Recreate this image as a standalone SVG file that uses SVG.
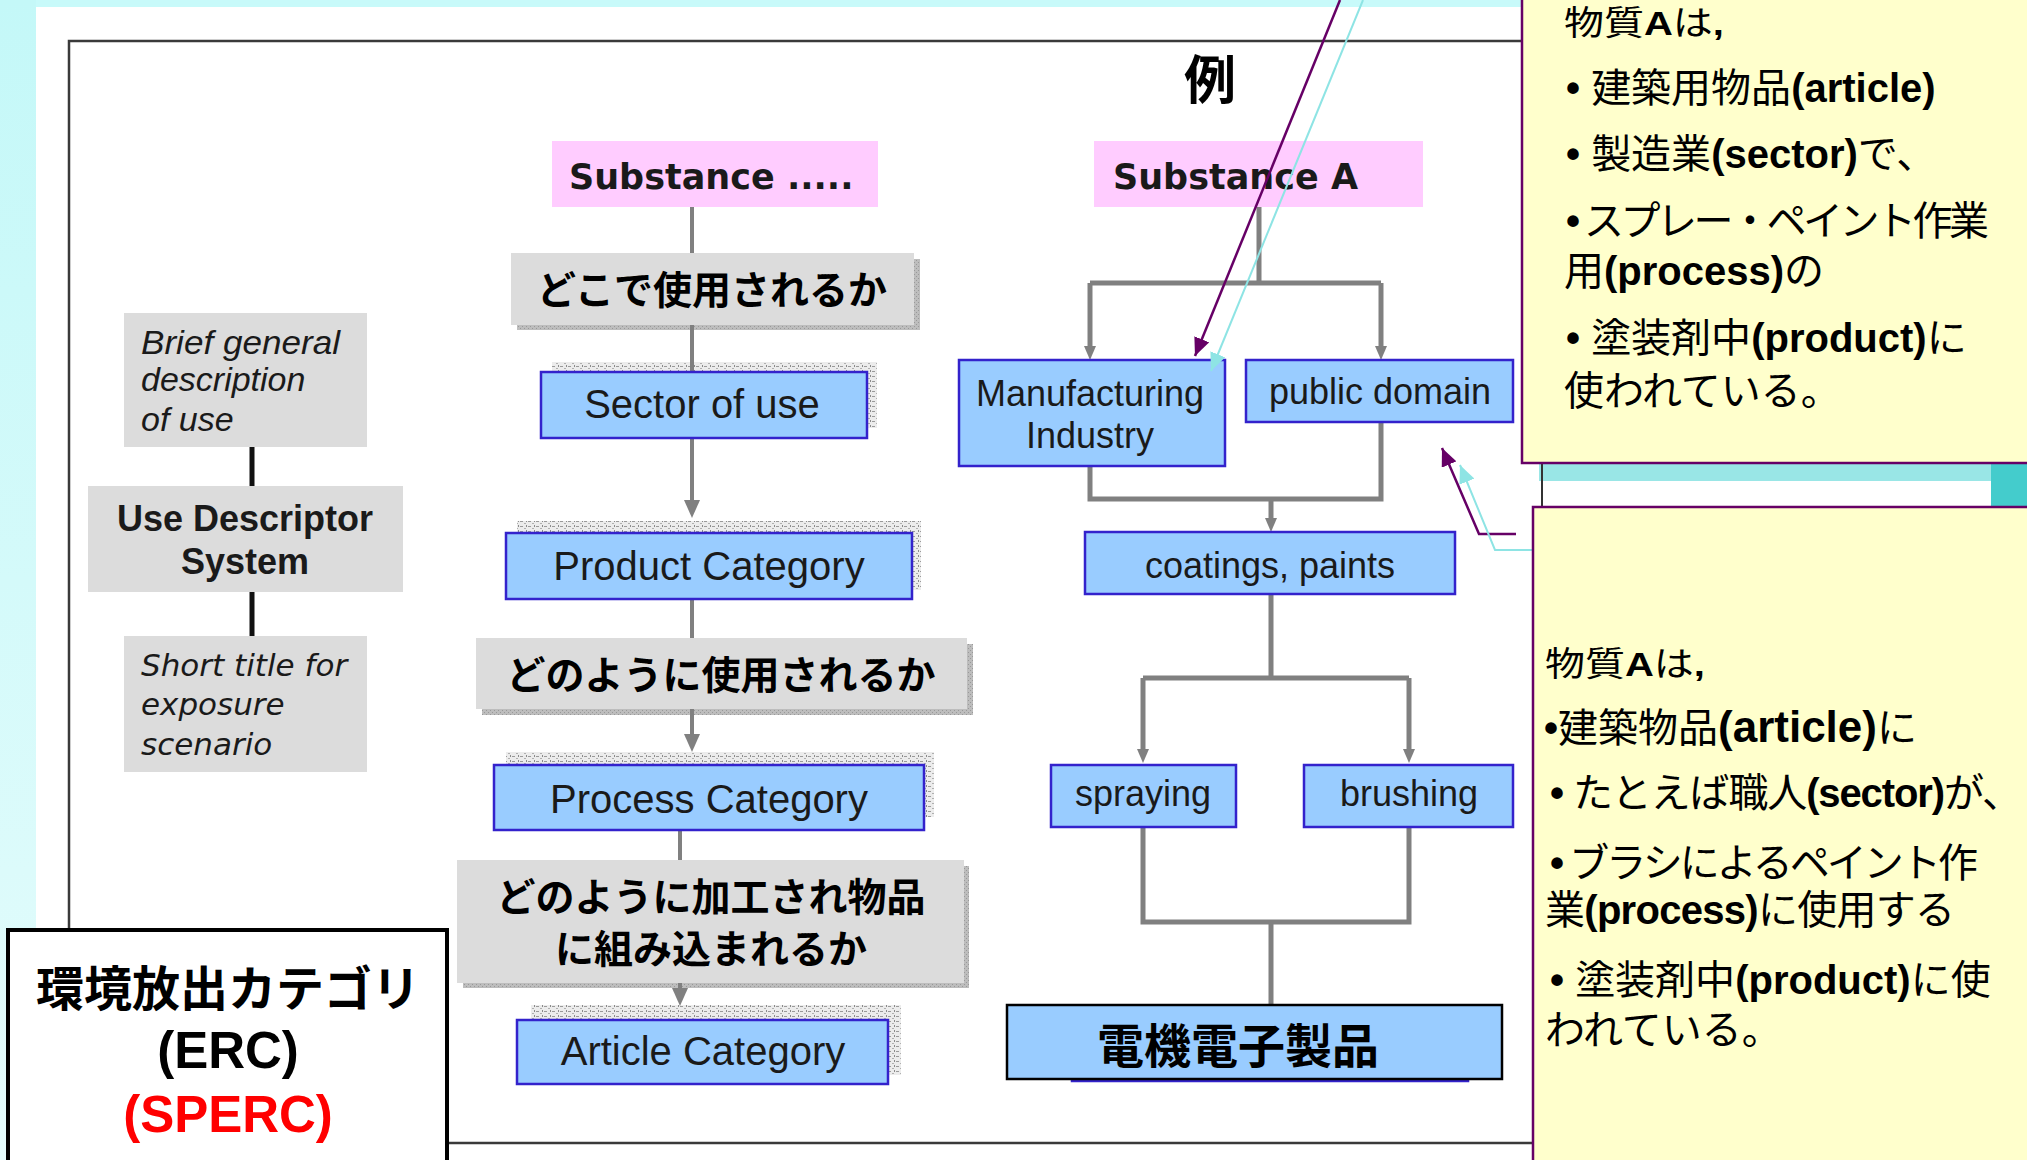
<svg xmlns="http://www.w3.org/2000/svg" width="2027" height="1160" viewBox="0 0 2027 1160">
<defs>
<linearGradient id="leftgrad" x1="0" y1="0" x2="0" y2="1">
<stop offset="0" stop-color="#c4f8f8"/>
<stop offset="1" stop-color="#e4fcfc"/>
</linearGradient>
<pattern id="hatch" width="8" height="5" patternUnits="userSpaceOnUse">
<rect width="8" height="5" fill="#ececec"/>
<rect x="0" y="1" width="3" height="1" fill="#9a9a9a"/>
<rect x="4" y="3" width="2" height="1" fill="#b0b0b0"/>
<rect x="6" y="0" width="1" height="2" fill="#8a8a8a"/>
</pattern>
<pattern id="shade" width="4" height="4" patternUnits="userSpaceOnUse">
<rect width="4" height="4" fill="#bdbdbd"/>
<rect x="0" y="0" width="1" height="1" fill="#999"/>
<rect x="2" y="2" width="1" height="1" fill="#999"/>
</pattern>
<marker id="aL" markerUnits="userSpaceOnUse" markerWidth="18" markerHeight="18" viewBox="0 0 18 18" refX="8" refY="9" orient="auto"><path d="M0,1 L18,9 L0,17 z" fill="#808080"/></marker>
<marker id="aR" markerUnits="userSpaceOnUse" markerWidth="14" markerHeight="14" viewBox="0 0 14 14" refX="6" refY="7" orient="auto"><path d="M0,1 L14,7 L0,13 z" fill="#808080"/></marker>
<marker id="aP" markerUnits="userSpaceOnUse" markerWidth="18" markerHeight="16" viewBox="0 0 18 16" refX="18" refY="8" orient="auto"><path d="M0,0 L18,8 L0,16 z" fill="#660066"/></marker>
<marker id="aC" markerUnits="userSpaceOnUse" markerWidth="18" markerHeight="16" viewBox="0 0 18 16" refX="18" refY="8" orient="auto"><path d="M0,0 L18,8 L0,16 z" fill="#8ee4e4"/></marker>
</defs>
<style>
.ja{font-family:"Noto Sans CJK JP","Noto Sans CJK SC",sans-serif}
.en{font-family:"Liberation Sans",Arial,sans-serif}
.dv{font-family:"DejaVu Sans","Liberation Sans",sans-serif}
.b{font-weight:bold}
.n{font-weight:normal}
.blue{fill:#99ccff;stroke:#3322cc;stroke-width:2.5}
.gray{fill:#dcdcdc}
.pink{fill:#ffccff}
.con{stroke:#808080;stroke-width:4;fill:none}
.conR{stroke:#808080;stroke-width:5;fill:none}
.callout{fill:#ffffcc;stroke:#660066;stroke-width:2.5}
.tx{fill:#1a1a1a}
.hatch{fill:url(#hatch)}
.shade{fill:url(#shade)}
</style>

<!-- background -->
<rect width="2027" height="1160" fill="#ffffff"/>
<rect x="0" y="0" width="2027" height="7" fill="#c8fafa"/>
<rect x="0" y="0" width="36" height="1160" fill="url(#leftgrad)"/>
<rect x="1539" y="463" width="452" height="18" fill="#99e6e6"/>
<rect x="1991" y="463" width="36" height="44" fill="#44cccc"/>
<line x1="1542" y1="463" x2="1542" y2="507" stroke="#333" stroke-width="2"/>

<!-- frame -->
<g id="frame" fill="none" stroke="#3a3a3a" stroke-width="2.5">
<path d="M69,930 V41 H1530"/>
<path d="M447,1143 H1540"/>
</g>

<!-- decorative hatch / shadows -->
<g id="decor">
<rect class="hatch" x="552" y="362" width="325" height="10"/>
<rect class="hatch" x="867" y="372" width="10" height="56"/>
<rect class="hatch" x="517" y="521" width="404" height="12"/>
<rect class="hatch" x="912" y="533" width="9" height="57"/>
<rect class="hatch" x="506" y="752" width="428" height="13"/>
<rect class="hatch" x="924" y="765" width="10" height="52"/>
<rect class="hatch" x="531" y="1005" width="370" height="15"/>
<rect class="hatch" x="888" y="1020" width="13" height="55"/>
<rect class="shade" x="517" y="259" width="403" height="71"/>
<rect class="shade" x="482" y="644" width="491" height="71"/>
<rect class="shade" x="463" y="866" width="506" height="122"/>
</g>

<!-- connectors -->
<g id="connectors">
<path class="con" d="M692,207 V253"/>
<path class="con" d="M692,325 V372"/>
<path class="con" d="M692,438 V508" marker-end="url(#aL)"/>
<path class="con" d="M692,599 V638"/>
<path class="con" d="M692,709 V742" marker-end="url(#aL)"/>
<path class="con" d="M680,830 V860"/>
<path class="con" d="M680,983 V996" marker-end="url(#aL)"/>
<path d="M252,447 V486 M252,592 V636" stroke="#111" stroke-width="5" fill="none"/>
<path class="conR" d="M1259,207 V283 M1090,283 H1381"/>
<path class="conR" d="M1090,283 V352" marker-end="url(#aR)"/>
<path class="conR" d="M1381,283 V352" marker-end="url(#aR)"/>
<path class="conR" d="M1090,466 V499 H1381 V422"/>
<path class="conR" d="M1271,499 V524" marker-end="url(#aR)"/>
<path class="conR" d="M1271,594 V678 M1143,678 H1409"/>
<path class="conR" d="M1143,678 V755" marker-end="url(#aR)"/>
<path class="conR" d="M1409,678 V755" marker-end="url(#aR)"/>
<path class="conR" d="M1143,827 V922 H1409 V827 M1271,922 V1005"/>
</g>

<!-- left column -->
<g id="brief">
<rect class="gray" x="124" y="313" width="243" height="134"/>
<text class="en tx" font-style="italic" font-size="34" x="141"><tspan x="141" y="354" textLength="199" lengthAdjust="spacingAndGlyphs">Brief general</tspan><tspan x="141" y="391">description</tspan><tspan x="141" y="431">of use</tspan></text>
</g>
<g id="use-descriptor">
<rect class="gray" x="88" y="486" width="315" height="106"/>
<text class="en b tx" font-size="36" text-anchor="middle"><tspan x="245" y="531">Use Descriptor</tspan><tspan x="245" y="574">System</tspan></text>
</g>
<g id="short-title">
<rect class="gray" x="124" y="636" width="243" height="136"/>
<text class="dv tx" font-style="italic" font-size="31"><tspan x="141" y="676">Short title for</tspan><tspan x="141" y="715">exposure</tspan><tspan x="141" y="755">scenario</tspan></text>
</g>
<g id="erc">
<rect x="8" y="930" width="439" height="260" fill="#ffffff" stroke="#000" stroke-width="4"/>
<text class="ja b" font-size="48" x="228" y="1006" text-anchor="middle" fill="#000">環境放出カテゴリ</text>
<text class="en b" font-size="51" x="228" y="1068" text-anchor="middle" fill="#000">(ERC)</text>
<text class="en b" font-size="51" x="228" y="1132" text-anchor="middle" fill="#ff0000">(SPERC)</text>
</g>

<!-- middle column -->
<g id="substance-dots">
<rect class="pink" x="552" y="141" width="326" height="66"/>
<text class="dv b tx" font-size="35" x="569" y="189">Substance .....</text>
</g>
<g id="where">
<rect class="gray" x="511" y="253" width="403" height="72"/>
<text class="ja b" font-size="39" x="712" y="304" text-anchor="middle" fill="#000">どこで使用されるか</text>
</g>
<g id="sector">
<rect class="blue" x="541" y="372" width="326" height="66"/>
<text class="en tx" font-size="40" x="702" y="418" text-anchor="middle">Sector of use</text>
</g>
<g id="product">
<rect class="blue" x="506" y="533" width="406" height="66"/>
<text class="en tx" font-size="40" x="709" y="580" text-anchor="middle">Product Category</text>
</g>
<g id="how">
<rect class="gray" x="476" y="638" width="491" height="71"/>
<text class="ja b" font-size="39" x="721" y="689" text-anchor="middle" fill="#000">どのように使用されるか</text>
</g>
<g id="process">
<rect class="blue" x="494" y="765" width="430" height="65"/>
<text class="en tx" font-size="40" x="709" y="813" text-anchor="middle">Process Category</text>
</g>
<g id="incorporate">
<rect class="gray" x="457" y="860" width="507" height="123"/>
<text class="ja b" font-size="39" text-anchor="middle" fill="#000"><tspan x="711" y="911">どのように加工され物品</tspan><tspan x="711" y="963">に組み込まれるか</tspan></text>
</g>
<g id="article">
<rect class="blue" x="517" y="1020" width="371" height="64"/>
<text class="en tx" font-size="40" x="703" y="1065" text-anchor="middle">Article Category</text>
</g>

<!-- right column -->
<g id="example">
<text class="ja b" font-size="52" x="1210" y="99" text-anchor="middle" fill="#000">例</text>
</g>
<g id="substance-a">
<rect class="pink" x="1094" y="141" width="329" height="66"/>
<text class="dv b tx" font-size="35" x="1113" y="189">Substance A</text>
</g>
<g id="manufacturing">
<rect class="blue" x="959" y="360" width="266" height="106"/>
<text class="en tx" font-size="36" text-anchor="middle"><tspan x="1090" y="406">Manufacturing</tspan><tspan x="1090" y="448">Industry</tspan></text>
</g>
<g id="public-domain">
<rect class="blue" x="1246" y="360" width="267" height="62"/>
<text class="en tx" font-size="36" x="1380" y="404" text-anchor="middle">public domain</text>
</g>
<g id="coatings">
<rect class="blue" x="1085" y="532" width="370" height="62"/>
<text class="en tx" font-size="36" x="1270" y="578" text-anchor="middle">coatings, paints</text>
</g>
<g id="spraying">
<rect class="blue" x="1051" y="765" width="185" height="62"/>
<text class="en tx" font-size="36" x="1143" y="806" text-anchor="middle">spraying</text>
</g>
<g id="brushing">
<rect class="blue" x="1304" y="765" width="209" height="62"/>
<text class="en tx" font-size="36" x="1409" y="806" text-anchor="middle">brushing</text>
</g>
<g id="electronics">
<rect class="blue" x="1072" y="1006" width="396" height="75"/>
<rect x="1007" y="1005" width="495" height="74" fill="#99ccff" stroke="#000" stroke-width="2.5"/>
<text class="ja b" font-size="47" x="1238" y="1063" text-anchor="middle" fill="#000">電機電子製品</text>
</g>

<!-- callout leaders -->
<g id="callout-connectors" fill="none">
<path d="M1340,0 L1195,356" stroke="#660066" stroke-width="2.5" marker-end="url(#aP)"/>
<path d="M1363,0 L1211,371" stroke="#8ee4e4" stroke-width="2" marker-end="url(#aC)"/>
<path d="M1516,534 H1479 L1442,448" stroke="#660066" stroke-width="2.5" marker-end="url(#aP)"/>
<path d="M1532,550 H1495 L1460,465" stroke="#8ee4e4" stroke-width="2" marker-end="url(#aC)"/>
</g>

<!-- callouts -->
<g id="callout-1">
<rect class="callout" x="1522" y="-10" width="520" height="473"/>
<g class="ja" font-size="40" fill="#000">
<text transform="translate(1564,35) scale(1,0.85)">物質<tspan class="en b">A</tspan>は<tspan class="en b">,</tspan></text>
<text x="1566" y="102"><tspan class="en b">• </tspan>建築用物品<tspan class="en b">(article)</tspan></text>
<text x="1566" y="168"><tspan class="en b">• </tspan>製造業<tspan class="en b">(sector)</tspan>で、</text>
<text x="1566" y="235" textLength="423" lengthAdjust="spacing"><tspan class="en b">• </tspan>スプレー・ペイント作業</text>
<text x="1564" y="285">用<tspan class="en b">(process)</tspan>の</text>
<text x="1566" y="352"><tspan class="en b">• </tspan>塗装剤中<tspan class="en b">(product)</tspan>に</text>
<text x="1564" y="405">使われている。</text>
</g>
</g>
<g id="callout-2">
<rect class="callout" x="1533" y="507" width="510" height="670"/>
<g class="ja" font-size="40" fill="#000">
<text transform="translate(1545,676) scale(1,0.85)">物質<tspan class="en b">A</tspan>は<tspan class="en b">,</tspan></text>
<text x="1544" y="742"><tspan class="en b">•</tspan>建築物品<tspan class="en b" font-size="44">(article)</tspan>に</text>
<text x="1550" y="807" textLength="472" lengthAdjust="spacing"><tspan class="en b">• </tspan>たとえば職人<tspan class="en b">(sector)</tspan>が、</text>
<text x="1550" y="877" textLength="428" lengthAdjust="spacing"><tspan class="en b">• </tspan>ブラシによるペイント作</text>
<text x="1545" y="924" textLength="410" lengthAdjust="spacing">業<tspan class="en b">(process)</tspan>に使用する</text>
<text x="1550" y="994"><tspan class="en b">• </tspan>塗装剤中<tspan class="en b">(product)</tspan>に使</text>
<text x="1545" y="1044">われている。</text>
</g>
</g>
</svg>
